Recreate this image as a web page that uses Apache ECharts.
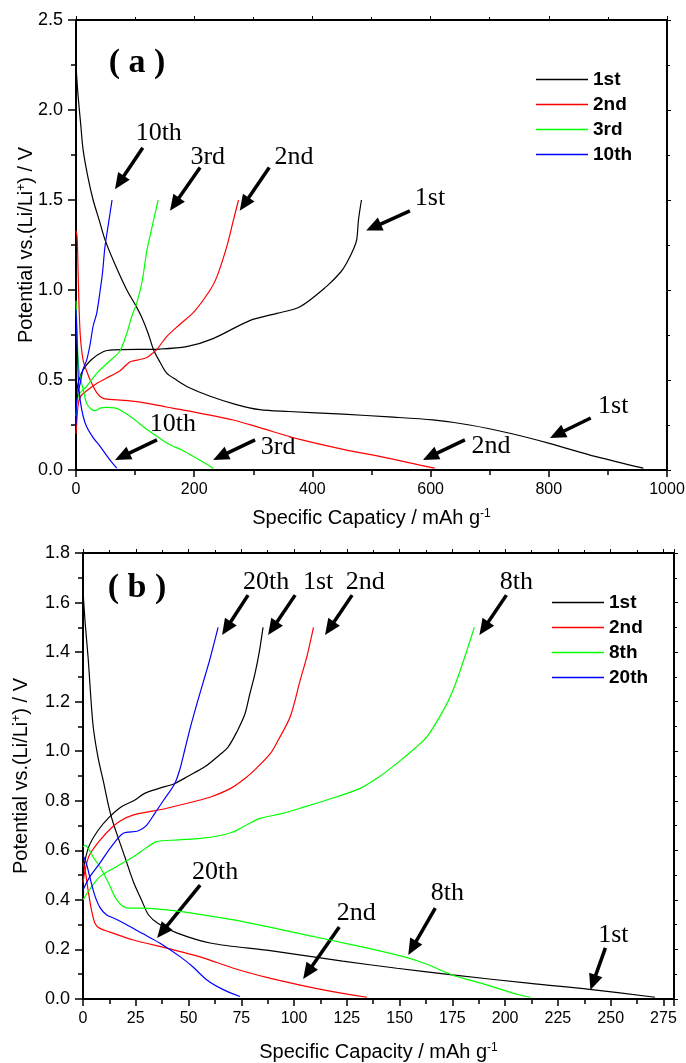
<!DOCTYPE html>
<html>
<head>
<meta charset="utf-8">
<script src="https://cdn.jsdelivr.net/npm/echarts@6/dist/echarts.min.js"></script>
<style>
html, body { margin: 0; padding: 0; background: #fff; }
#chartA { width: 686px; height: 530px; }
#chartB { width: 686px; height: 533px; }
</style>
</head>
<body>
<div id="chartA"></div>
<div id="chartB"></div>
<script>
// ---- panel (a): [capacity mAh/g, potential V] ----
var aDis1 = [[0,2.25],[3,2.1],[8,1.92],[12,1.78],[20,1.63],[29,1.5],[40,1.38],[49,1.28],[65,1.15],[86,1.0],[100,0.92],[111,0.85],[122,0.76],[131,0.67],[142,0.6],[153,0.54],[170,0.5],[190,0.46],[227,0.41],[270,0.365],[311,0.335],[360,0.325],[452,0.31],[530,0.295],[604,0.278],[666,0.25],[734,0.204],[801,0.148],[880,0.074],[960,0.01]];
var aCha1 = [[0,0.35],[2,0.45],[5,0.5],[12,0.556],[25,0.61],[46,0.657],[63,0.667],[142,0.672],[187,0.685],[232,0.73],[294,0.83],[340,0.87],[379,0.907],[424,1.02],[448,1.1],[458,1.15],[470,1.23],[475,1.28],[478,1.39],[483,1.5]];
var aDis2 = [[0,1.33],[2,1.29],[4,1.04],[7,0.76],[12,0.61],[18,0.55],[24,0.5],[35,0.43],[46,0.398],[70,0.39],[103,0.38],[153,0.35],[187,0.33],[266,0.278],[311,0.235],[379,0.17],[452,0.115],[530,0.065],[607,0.01]];
var aCha2 = [[0,0.2],[2,0.3],[4,0.37],[8,0.41],[18,0.44],[35,0.48],[57,0.52],[74,0.55],[91,0.6],[103,0.61],[120,0.625],[130,0.65],[137,0.67],[153,0.74],[176,0.81],[200,0.88],[227,1.0],[238,1.07],[255,1.24],[265,1.37],[275,1.5]];
var aDis3 = [[0,0.94],[2,0.75],[4,0.59],[8,0.5],[12,0.45],[18,0.37],[25,0.34],[32,0.33],[42,0.345],[52,0.348],[65,0.345],[74,0.335],[95,0.29],[120,0.225],[140,0.18],[159,0.14],[180,0.11],[204,0.065],[220,0.035],[232,0.01]];
var aCha3 = [[0,0.3],[2,0.38],[5,0.42],[12,0.445],[18,0.465],[35,0.537],[55,0.6],[74,0.66],[86,0.76],[94,0.85],[103,0.93],[112,1.05],[120,1.22],[130,1.37],[139,1.5]];
var aDis10 = [[0,0.89],[2,0.7],[4,0.5],[7,0.39],[12,0.3],[18,0.24],[29,0.18],[41,0.13],[52,0.08],[60,0.045],[69,0.01]];
var aCha10 = [[0,0.25],[1,0.37],[4,0.44],[7,0.48],[12,0.56],[18,0.61],[24,0.7],[29,0.8],[35,0.87],[41,1.0],[45,1.1],[49,1.24],[55,1.37],[61,1.5]];

// ---- panel (b) ----
var bDis1 = [[0,1.65],[1,1.52],[2.4,1.38],[4.7,1.11],[7,0.98],[9.5,0.884],[13.4,0.736],[19.8,0.574],[24,0.47],[27.7,0.4],[31,0.34],[35.6,0.305],[45,0.265],[60.8,0.225],[88.7,0.195],[123,0.153],[148.7,0.124],[175,0.097],[212,0.063],[240,0.039],[271,0.007]];
var bCha1 = [[0,0.5],[1,0.56],[3,0.62],[7.1,0.68],[12,0.73],[18.2,0.776],[24,0.8],[29.2,0.83],[36,0.85],[43.5,0.87],[50,0.9],[57.7,0.937],[64,0.98],[68.8,1.018],[73,1.08],[76.7,1.15],[79,1.23],[81.4,1.31],[83.5,1.4],[85.3,1.5]];
var bDis2 = [[0,0.55],[1,0.52],[2.4,0.44],[4,0.36],[5.7,0.305],[8,0.285],[12.8,0.27],[23.9,0.238],[39.7,0.205],[55.5,0.17],[71.3,0.124],[87,0.087],[102.9,0.056],[115,0.035],[123,0.023],[134.5,0.007]];
var bCha2 = [[0,0.47],[1,0.52],[3,0.58],[8,0.64],[13.4,0.69],[18,0.72],[23.9,0.743],[32,0.757],[39.7,0.77],[55.5,0.803],[60.8,0.816],[70,0.85],[76.7,0.89],[82,0.93],[88.7,0.99],[92.5,1.045],[98.2,1.14],[102.9,1.287],[106,1.38],[109.2,1.5]];
var bDis8 = [[0,0.615],[1,0.62],[3,0.6],[5,0.57],[8,0.534],[12,0.47],[16,0.4],[20.7,0.368],[31.8,0.366],[47.6,0.352],[71.3,0.319],[95,0.278],[117,0.238],[135,0.205],[151.9,0.171],[163,0.14],[175,0.097],[190,0.06],[207,0.016],[212,0.007]];
var bCha8 = [[0,0.4],[3,0.44],[8,0.494],[16,0.535],[23.9,0.574],[30,0.61],[34.9,0.635],[45,0.642],[55.5,0.648],[65,0.66],[71.3,0.675],[78,0.705],[83.9,0.729],[95,0.75],[102.9,0.77],[115.5,0.803],[131.3,0.85],[140,0.895],[148.7,0.951],[157,1.01],[163,1.059],[170.8,1.166],[175,1.24],[178.8,1.328],[182,1.41],[185.4,1.5]];
var bDis20 = [[0,0.58],[1.5,0.55],[3.3,0.49],[5.5,0.42],[8,0.37],[11.2,0.339],[15,0.325],[20.7,0.3],[28,0.265],[36.5,0.225],[46,0.171],[52,0.13],[58.7,0.077],[66,0.04],[74.4,0.01]];
var bCha20 = [[0,0.44],[3,0.49],[8,0.548],[13,0.61],[19.1,0.669],[26,0.678],[30,0.7],[34,0.749],[38,0.8],[43.5,0.87],[46,0.93],[48.2,1.005],[51,1.1],[54.5,1.207],[57,1.28],[60,1.368],[64,1.5]];

var cyclesA = ['1st', '2nd', '3rd', '10th'];
var cyclesB = ['1st', '2nd', '8th', '20th'];
var colors = ['#000000', '#ff0000', '#00ff00', '#0000ff'];

// annotation arrows: text position, arrow tail, arrow tip (data coords)
var notesA = [
  { text: '10th', at: [140, 1.87], from: [113, 1.79], to: [66, 1.56] },
  { text: '3rd', at: [223, 1.74], from: [210, 1.68], to: [159, 1.44] },
  { text: '2nd', at: [369, 1.74], from: [327, 1.68], to: [277, 1.44] },
  { text: '1st', at: [599, 1.51], from: [565, 1.44], to: [491, 1.33] },
  { text: '10th', at: [164, 0.256], from: [137, 0.167], to: [66, 0.056] },
  { text: '3rd', at: [342, 0.128], from: [303, 0.167], to: [232, 0.056] },
  { text: '2nd', at: [702, 0.133], from: [658, 0.167], to: [587, 0.056] },
  { text: '1st', at: [909, 0.356], from: [871, 0.289], to: [802, 0.178] }
];
var notesB = [
  { text: '20th', at: [86.8, 1.683], from: [78.2, 1.63], to: [65.9, 1.469] },
  { text: '1st', at: [111.4, 1.683], from: [100.5, 1.63], to: [87.7, 1.469] },
  { text: '2nd', at: [133.7, 1.683], from: [127.5, 1.63], to: [114.7, 1.469] },
  { text: '8th', at: [205.3, 1.683], from: [200.6, 1.63], to: [187.8, 1.469] },
  { text: '20th', at: [62.6, 0.513], from: [55.5, 0.46], to: [35.1, 0.246] },
  { text: '2nd', at: [129.4, 0.347], from: [121.4, 0.291], to: [104.3, 0.081] },
  { text: '8th', at: [172.6, 0.428], from: [166.9, 0.367], to: [154.1, 0.178] },
  { text: '1st', at: [251.3, 0.258], from: [247.5, 0.206], to: [240.4, 0.036] }
];

var SANS = 'Liberation Sans, Arial, sans-serif';
var SERIF = 'Liberation Serif, Times New Roman, serif';

function curve(name, color, data) {
  return {
    type: 'line', name: name, data: data, symbol: 'none', smooth: 0.3,
    xAxisIndex: 0, yAxisIndex: 0,
    lineStyle: { color: color, width: 1.2 }, itemStyle: { color: color },
    silent: true
  };
}

function buildOption(p) {
  var series = [];
  p.names.forEach(function (n, i) {
    series.push(curve(n, colors[i], p.dis[i]));
    series.push(curve(n, colors[i], p.cha[i]));
  });
  var axLine = { show: true, onZero: false, lineStyle: { color: '#000', width: 2 } };
  var fmtY = function (v) { return v.toFixed(1); };
  var fmtX = function (v) { return String(v); };
  return {
    animation: false,
    backgroundColor: '#fff',
    grid: { left: p.grid[0], top: p.grid[1], width: p.grid[2], height: p.grid[3], show: false, outerBoundsMode: 'none' },
    legend: {
      data: p.names.map(function (n) { return { name: n, icon: 'rect' }; }),
      orient: 'vertical', left: p.legend[0], top: p.legend[1],
      itemWidth: 52, itemHeight: 1.5, itemGap: 6,
      textStyle: { fontFamily: SANS, fontWeight: 'bold', fontSize: 19, color: '#000' }
    },
    xAxis: [{
      type: 'value', min: 0, max: p.xMax, interval: p.xInt,
      name: p.xName, nameLocation: 'middle', nameGap: p.xNameGap, nameMoveOverlap: false,
      nameTextStyle: { fontFamily: SANS, fontSize: 20, color: '#000',
        rich: { sup: { fontSize: 12, verticalAlign: 'top', fontFamily: SANS, color: '#000' } } },
      axisLine: axLine,
      axisTick: { show: true, inside: false, length: 7, lineStyle: { color: '#000', width: 1.5 } },
      minorTick: { show: true, splitNumber: 2, length: 5, lineStyle: { color: '#000', width: 1.5 } },
      axisLabel: { fontFamily: SANS, fontSize: 16, color: '#000', margin: 12, showMaxLabel: p.showMaxX, formatter: fmtX },
      splitLine: { show: false }
    }, {
      type: 'value', min: 0, max: p.xMax, interval: p.xInt, position: 'top',
      axisLine: axLine,
      axisTick: { show: true, inside: false, length: 4, lineStyle: { color: '#000', width: 1 } },
      minorTick: { show: true, splitNumber: 2, length: 3, lineStyle: { color: '#000', width: 1 } },
      axisLabel: { show: false }, splitLine: { show: false }
    }],
    yAxis: [{
      type: 'value', min: 0, max: p.yMax, interval: p.yInt,
      name: 'Potential vs.(Li/Li{sup|+}) / V', nameLocation: 'middle', nameGap: p.yNameGap, nameMoveOverlap: false,
      nameTextStyle: { fontFamily: SANS, fontSize: 20, color: '#000',
        rich: { sup: { fontSize: 12, verticalAlign: 'top', fontFamily: SANS, color: '#000' } } },
      axisLine: axLine,
      axisTick: { show: true, inside: false, length: 8, lineStyle: { color: '#000', width: 1.5 } },
      minorTick: { show: true, splitNumber: 2, length: 5, lineStyle: { color: '#000', width: 1.5 } },
      axisLabel: { fontFamily: SANS, fontSize: 18, color: '#000', margin: 13, formatter: fmtY },
      splitLine: { show: false }
    }, {
      type: 'value', min: 0, max: p.yMax, interval: p.yInt, position: 'right',
      axisLine: axLine,
      axisTick: { show: true, inside: false, length: 4, lineStyle: { color: '#000', width: 1 } },
      minorTick: { show: true, splitNumber: 2, length: 3, lineStyle: { color: '#000', width: 1 } },
      axisLabel: { show: false }, splitLine: { show: false }
    }],
    series: series
  };
}

function arrowGraphics(chart, notes, label, labelPos) {
  var g = [];
  notes.forEach(function (n) {
    var p0 = chart.convertToPixel({ gridIndex: 0 }, n.from);
    var p1 = chart.convertToPixel({ gridIndex: 0 }, n.to);
    var t = chart.convertToPixel({ gridIndex: 0 }, n.at);
    var dx = p1[0] - p0[0], dy = p1[1] - p0[1];
    var L = Math.sqrt(dx * dx + dy * dy);
    var ux = dx / L, uy = dy / L;
    var headLen = 16, headHalf = 7;
    var bx = p1[0] - ux * headLen, by = p1[1] - uy * headLen;
    g.push({ type: 'line', shape: { x1: p0[0], y1: p0[1], x2: bx + ux * 2, y2: by + uy * 2 },
      style: { stroke: '#000', lineWidth: 3.5 }, silent: true });
    g.push({ type: 'polygon', shape: { points: [[p1[0], p1[1]], [bx - uy * headHalf, by + ux * headHalf], [bx + uy * headHalf, by - ux * headHalf]] },
      style: { fill: '#000' }, silent: true });
    g.push({ type: 'text', x: t[0], y: t[1], silent: true,
      style: { text: n.text, font: '26px ' + SERIF, fill: '#000', align: 'center', verticalAlign: 'middle' } });
  });
  g.push({ type: 'text', x: labelPos[0], y: labelPos[1], silent: true,
    style: { text: label, font: 'bold 34px ' + SERIF, fill: '#000', align: 'center', verticalAlign: 'middle' } });
  return g;
}

var chartA = echarts.init(document.getElementById('chartA'));
chartA.setOption(buildOption({
  names: cyclesA,
  dis: [aDis1, aDis2, aDis3, aDis10],
  cha: [aCha1, aCha2, aCha3, aCha10],
  grid: [76, 20, 591, 450], legend: [531, 65],
  xMax: 1000, xInt: 200, yMax: 2.5, yInt: 0.5, showMaxX: true,
  xName: 'Specific Capaticy / mAh g{sup|-1}', xNameGap: 38, yNameGap: 40
}));
chartA.setOption({ graphic: arrowGraphics(chartA, notesA, '( a )', [137, 63]) });

var chartB = echarts.init(document.getElementById('chartB'));
chartB.setOption(buildOption({
  names: cyclesB,
  dis: [bDis1, bDis2, bDis8, bDis20],
  cha: [bCha1, bCha2, bCha8, bCha20],
  grid: [83, 23, 591, 446], legend: [547, 58],
  xMax: 280, xInt: 25, yMax: 1.8, yInt: 0.2, showMaxX: false,
  xName: 'Specific Capacity / mAh g{sup|-1}', xNameGap: 43, yNameGap: 52
}));
chartB.setOption({ graphic: arrowGraphics(chartB, notesB, '( b )', [137, 58]) });
</script>
</body>
</html>
